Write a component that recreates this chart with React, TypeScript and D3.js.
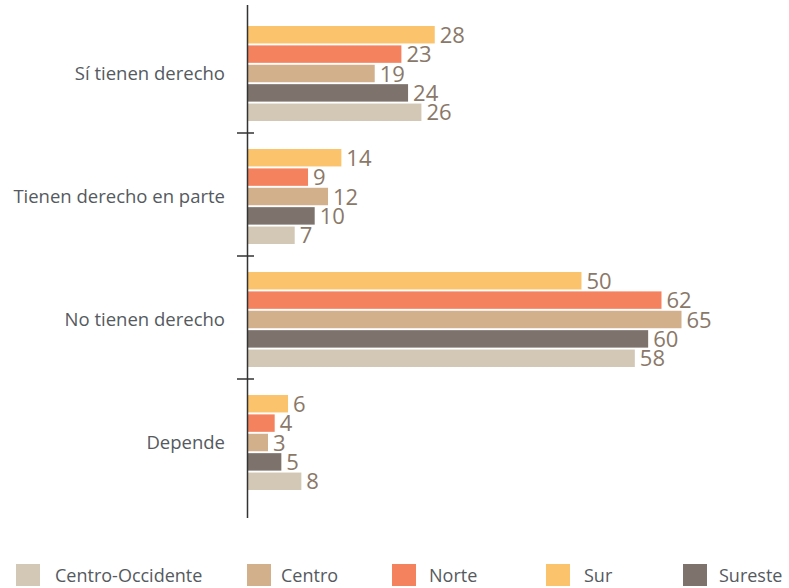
import React from "react";
import * as d3 from "d3";

const categories = ["Sí tienen derecho", "Tienen derecho en parte", "No tienen derecho", "Depende"];
const seriesNames = ["Sur", "Norte", "Centro", "Sureste", "Centro-Occidente"];
const sur = [28, 14, 50, 6];
const norte = [23, 9, 62, 4];
const centro = [19, 12, 65, 3];
const sureste = [24, 10, 60, 5];
const centroOccidente = [26, 7, 58, 8];
const seriesValues = [sur, norte, centro, sureste, centroOccidente];
const colors: Record<string, string> = {
  Sur: "#FBC36B",
  Norte: "#F5825E",
  Centro: "#D2B08C",
  Sureste: "#7E726C",
  "Centro-Occidente": "#D3C7B5",
};
const legendOrder = ["Centro-Occidente", "Centro", "Norte", "Sur", "Sureste"];
const legendX = [16, 247, 392, 546, 683];
const legendTextX = [55, 281, 429, 584, 719];

export default function App() {
  const W = 789, H = 588;
  const x = d3.scaleLinear().domain([0, 65]).range([248, 681.5]);
  const y = d3.scaleBand<string>().domain(categories).range([10, 502]).padding(0);
  const inner = d3.scaleBand<string>().domain(seriesNames).range([0, 95]).paddingInner(0.1);
  const font = "'Open Sans', 'Noto Sans', sans-serif";
  const boundaries = categories.slice(1).map((c) => y(c) as number);

  return (
    <svg width={W} height={H} style={{ position: "absolute", left: 0, top: 0, background: "#fff" }} fontFamily={font}>
      {categories.map((cat, ci) => {
        const g0 = (y(cat) as number) + 16;
        return (
          <g key={cat}>
            {seriesNames.map((s, si) => {
              const v = seriesValues[si][ci];
              const yy = g0 + (inner(s) as number);
              const bw = inner.bandwidth();
              return (
                <g key={s}>
                  <rect x={x(0)} y={yy} width={x(v) - x(0)} height={bw} fill={colors[s]} />
                  <text x={x(v) + 5} y={yy + bw / 2 + 8} fontSize={22} fill="#8a7868">{v}</text>
                </g>
              );
            })}
            <text x={225} y={g0 + 95 / 2 + 6} textAnchor="end" fontSize={18.5} fill="#555a60">{cat}</text>
          </g>
        );
      })}
      <line x1={247.5} x2={247.5} y1={5} y2={518} stroke="#333" strokeWidth={1.5} />
      {boundaries.map((b, i) => (
        <line key={i} x1={237} x2={254} y1={b} y2={b} stroke="#333" strokeWidth={1.5} />
      ))}
      {legendOrder.map((s, i) => (
        <g key={s}>
          <rect x={legendX[i]} y={564} width={24} height={22} fill={colors[s]} />
          <text x={legendTextX[i]} y={582} fontSize={18} fill="#555a60">{s}</text>
        </g>
      ))}
    </svg>
  );
}
